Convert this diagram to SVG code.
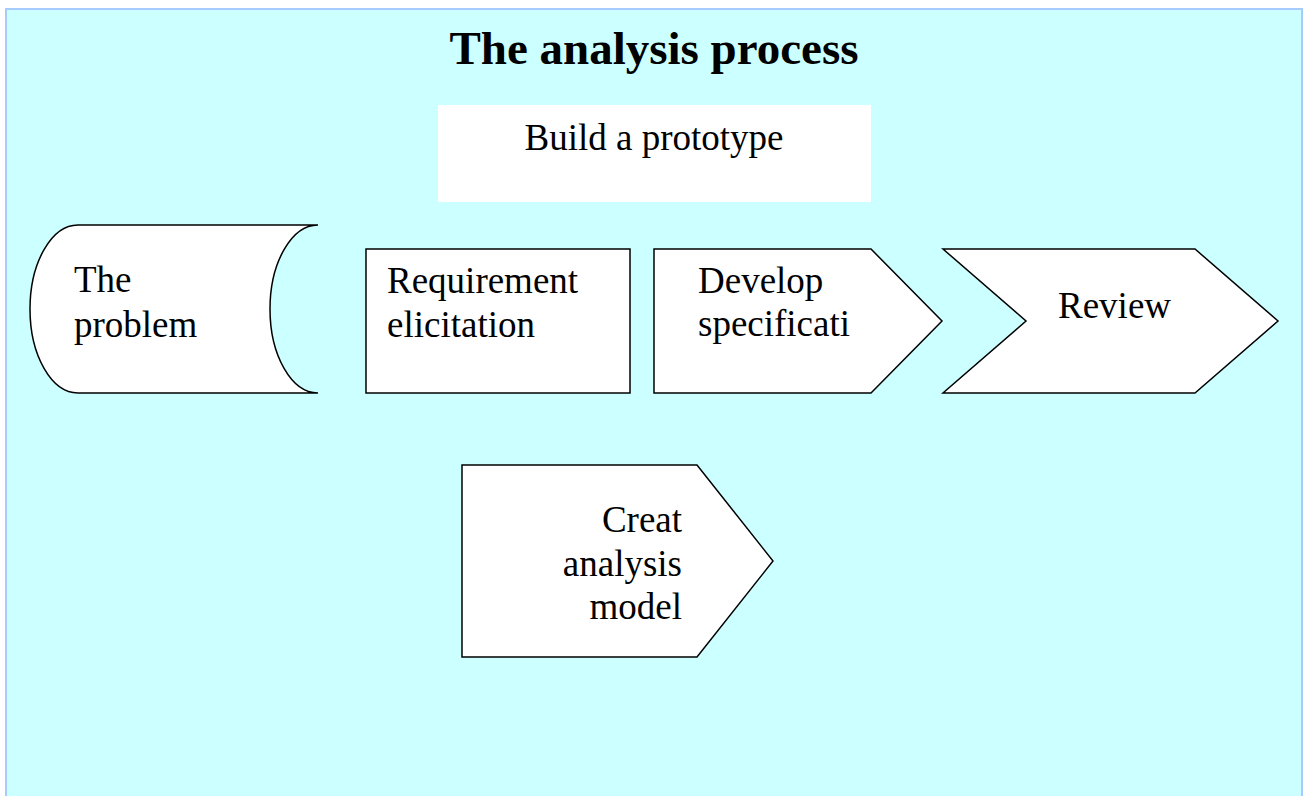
<svg xmlns="http://www.w3.org/2000/svg" width="1304" height="796" viewBox="0 0 1304 796">
<style>
.shape{fill:#ffffff;stroke:#000000;stroke-width:1.5;stroke-linejoin:miter}
.t{font-family:"Liberation Serif","Times New Roman",serif;font-size:37px;fill:#000000}
.title{font-family:"Liberation Serif","Times New Roman",serif;font-size:47px;font-weight:bold;fill:#000000}
</style>
<rect id="frame" x="6" y="9" width="1296" height="800" fill="#ccffff" stroke="#a6ccff" stroke-width="2"/>
<text class="title" x="654" y="64" text-anchor="middle">The analysis process</text>
<g id="prototype">
<rect x="438" y="105" width="433" height="97" fill="#ffffff"/>
<text class="t" x="654" y="150" text-anchor="middle">Build a prototype</text>
</g>
<g id="problem">
<path class="shape" d="M78,225 L318,225 A48,84 0 0 0 270,309 A48,84 0 0 0 318,393 L78,393 A48,84 0 0 1 30,309 A48,84 0 0 1 78,225 Z"/>
<text class="t" x="74" y="292">The</text>
<text class="t" x="74" y="337">problem</text>
</g>
<g id="requirement">
<rect class="shape" x="366" y="249" width="264" height="144"/>
<text class="t" x="387" y="293">Requirement</text>
<text class="t" x="387" y="337">elicitation</text>
</g>
<g id="develop">
<path class="shape" d="M654,249 L871,249 L942,321 L871,393 L654,393 Z"/>
<text class="t" x="698" y="293">Develop</text>
<text class="t" x="698" y="336">specificati</text>
</g>
<g id="review">
<path class="shape" d="M943,249 L1195,249 L1278,321 L1195,393 L943,393 L1026,321 Z"/>
<text class="t" x="1058" y="318">Review</text>
</g>
<g id="create">
<path class="shape" d="M462,465 L697,465 L773,561 L697,657 L462,657 Z"/>
<text class="t" x="682" y="532" text-anchor="end">Creat</text>
<text class="t" x="682" y="576" text-anchor="end">analysis</text>
<text class="t" x="682" y="619" text-anchor="end">model</text>
</g>
<g id="connectors"></g>
</svg>
